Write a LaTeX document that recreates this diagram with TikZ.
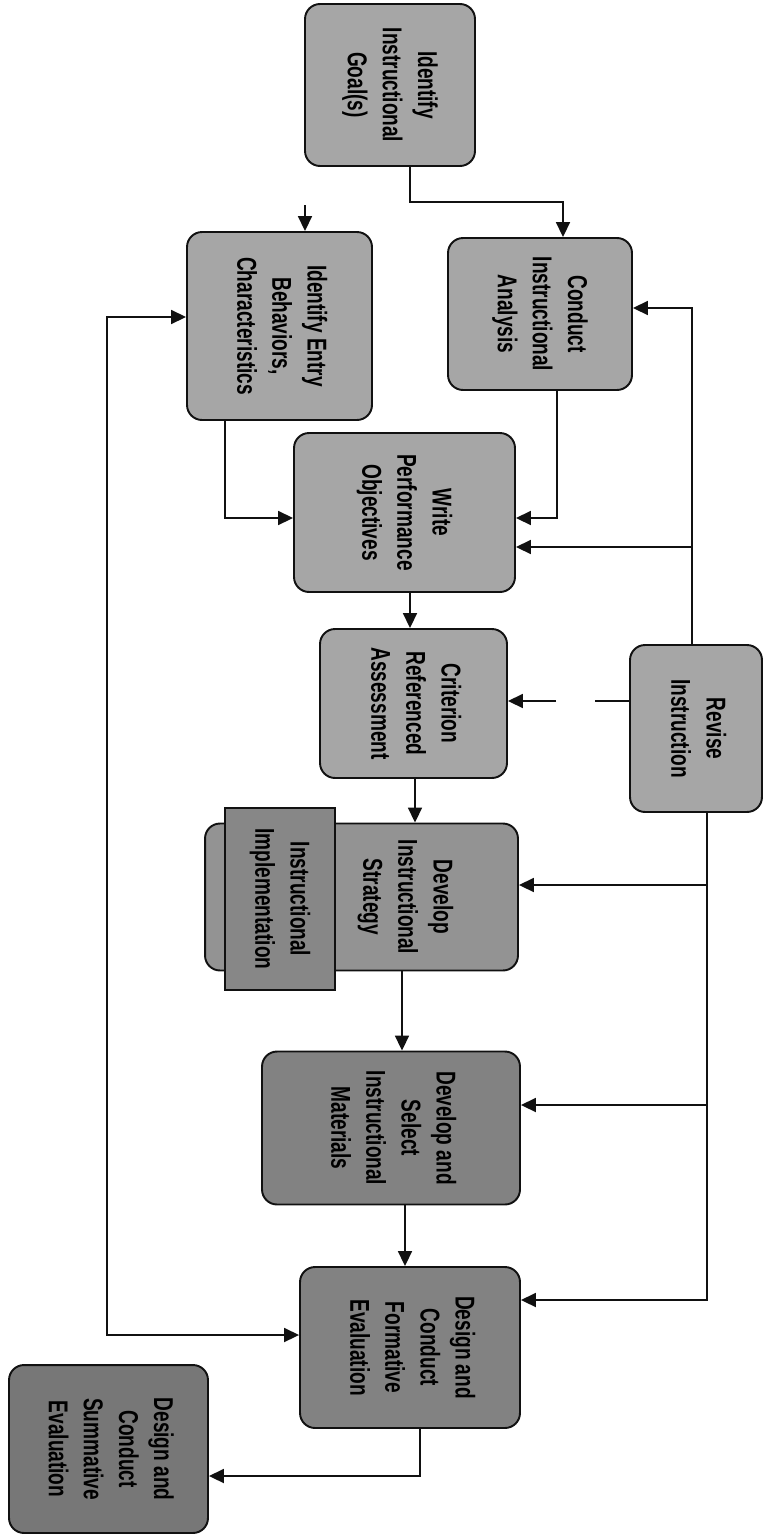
\documentclass[tikz,border=0pt]{standalone}
\usepackage{fontspec}
\newfontfamily\boxfont{Liberation Sans}[FakeStretch=0.7]
\usepackage{tikz}
\usetikzlibrary{arrows.meta,calc}
\definecolor{paleslab}{HTML}{A6A6A6}
\definecolor{midslab}{HTML}{939393}
\definecolor{darkslab}{HTML}{828282}
\definecolor{deepslab}{HTML}{777777}
\definecolor{inkline}{HTML}{111111}
\newcommand{\vlabel}[1]{\rotatebox{-90}{\begin{tabular}{@{}c@{}}#1\end{tabular}}}
\tikzset{
  stagebox/.style={
    rectangle, rounded corners=0.3cm, draw=inkline, line width=1.1pt,
    fill=paleslab, inner sep=0pt,
    font=\boxfont\bfseries\fontsize{15.5}{20}\selectfont
  },
  flowarrow/.style={-{Triangle[length=3mm,width=2.8mm]}, line width=1pt, color=inkline},
  plainline/.style={line width=1pt, color=inkline},
}

\begin{document}
\begin{tikzpicture}[x=0.02cm, y=-0.02cm]
  \useasboundingbox[fill=white] (0,0) rectangle (765,1538);

  \node[stagebox, minimum width=3.4cm, minimum height=3.24cm] (goals) at (390,85) {\vlabel{Identify\\Instructional\\Goal(s)}};
  \node[stagebox, minimum width=3.68cm, minimum height=3.04cm] (conduct) at (540,314) {\vlabel{Conduct\\Instructional\\Analysis}};
  \node[stagebox, minimum width=3.7cm, minimum height=3.76cm] (entry) at (279.5,326) {\vlabel{Identify Entry\\Behaviors,\\Characteristics}};
  \node[stagebox, minimum width=4.42cm, minimum height=3.18cm] (write) at (404.5,512.5) {\vlabel{Write\\Performance\\Objectives}};
  \node[stagebox, minimum width=3.74cm, minimum height=2.98cm] (crit) at (413.5,703.5) {\vlabel{Criterion\\Referenced\\Assessment}};
  \node[stagebox, minimum width=2.64cm, minimum height=3.34cm] (revise) at (696,728.5) {\vlabel{Revise\\Instruction}};
  \node[stagebox, fill=midslab, minimum width=6.26cm, minimum height=2.94cm] (strategy) at (361.5,897) {\hspace*{1.76cm}\vlabel{Develop\\Instructional\\Strategy}};
  \node[stagebox, sharp corners, fill=midslab!92!black, minimum width=2.2cm, minimum height=3.64cm] (impl) at (280,899) {\vlabel{Instructional\\Implementation}};
  \node[stagebox, fill=darkslab, minimum width=5.16cm, minimum height=3.06cm] (materials) at (391,1128) {\vlabel{Develop and\\Select\\Instructional\\Materials}};
  \node[stagebox, fill=darkslab, minimum width=4.4cm, minimum height=3.22cm] (formative) at (410,1347.5) {\vlabel{Design and\\Conduct\\Formative\\Evaluation}};
  \node[stagebox, fill=deepslab, minimum width=3.98cm, minimum height=3.36cm] (summative) at (108.5,1449) {\vlabel{Design and\\Conduct\\Summative\\Evaluation}};

  % main chain
  \draw[flowarrow] (goals.south -| 410,0) |- (563,202) -- (conduct.north -| 563,0);
  \coordinate (stub) at (305,205);
  \draw[flowarrow] (stub) -- (entry.north -| 305,0);
  \draw[flowarrow] (entry.south -| 225,0) |- (write.west |- 0,518);
  \draw[flowarrow] (conduct.south -| 557,0) |- (write.east |- 0,518);
  \foreach \a/\b/\x in {write/crit/410,crit/strategy/415,strategy/materials/402,materials/formative/405}
    \draw[flowarrow] (\a.south -| \x,0) -- (\b.north -| \x,0);
  \draw[flowarrow] (formative.south -| 420,0) |- (summative.east |- 0,1476);

  % loop back to entry behaviors
  \draw[flowarrow, {Triangle[length=3mm,width=2.8mm]}-{Triangle[length=3mm,width=2.8mm]}]
    (entry.west |- 0,317) -| (107,1335) -- (formative.west |- 0,1335);

  % revise instruction feedback
  \draw[flowarrow] (revise.north -| 692,0) |- (conduct.east |- 0,308);
  \coordinate (rvwrite) at (692,547);
  \draw[flowarrow] (rvwrite) -- (write.east |- 0,547);
  \coordinate (gapR) at (595,701);
  \coordinate (gapL) at (556,701);
  \draw[plainline] (revise.west |- 0,701) -- (gapR);
  \draw[flowarrow] (gapL) -- (crit.east |- 0,701);
  \draw[flowarrow] (revise.south -| 707,0) |- (formative.east |- 0,1300);
  \foreach \n/\y in {strategy/885,materials/1105}
    \draw[flowarrow] (707,\y) -- (\n.east |- 0,\y);
\end{tikzpicture}
\end{document}
